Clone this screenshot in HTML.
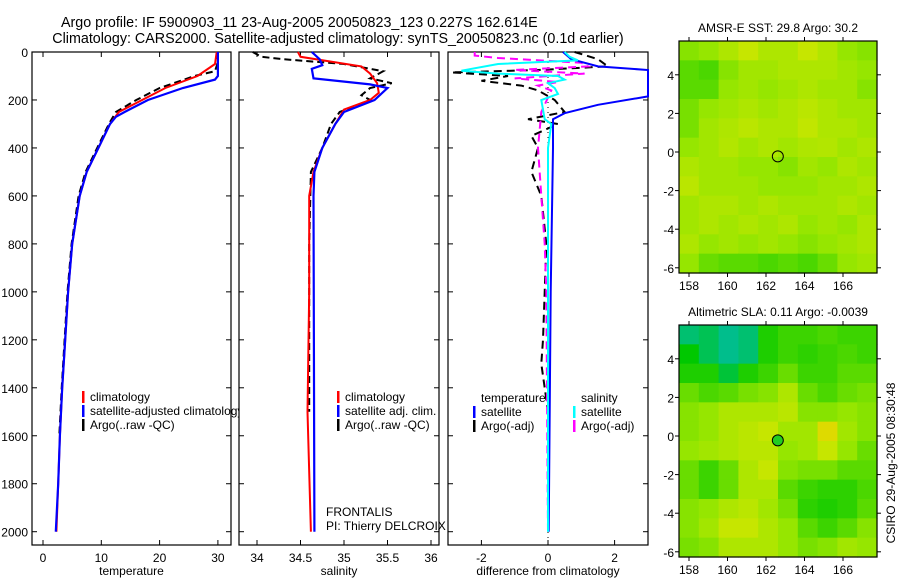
<!DOCTYPE html>
<html><head><meta charset="utf-8"><style>
body{margin:0;background:#fff}
svg{display:block;font-family:"Liberation Sans",sans-serif}
</style></head><body>
<svg id="c" width="900" height="580" xmlns="http://www.w3.org/2000/svg">
<text x="61" y="27" font-size="14.3">Argo profile: IF 5900903_11 23-Aug-2005 20050823_123 0.227S 162.614E</text>
<text x="338" y="43" font-size="14.3" text-anchor="middle">Climatology: CARS2000. Satellite-adjusted climatology: synTS_20050823.nc (0.1d earlier)</text>
<text x="778" y="32" font-size="12" text-anchor="middle">AMSR-E SST: 29.8 Argo: 30.2</text>
<text x="778" y="316" font-size="12" text-anchor="middle">Altimetric SLA: 0.11 Argo: -0.0039</text>
<text transform="translate(895,463) rotate(-90)" font-size="12" text-anchor="middle">CSIRO 29-Aug-2005 08:30:48</text>
</svg>
<script>
// ---- data ----
const depthTicks=[0,200,400,600,800,1000,1200,1400,1600,1800,2000];
const tempTicks=[0,10,20,30];
const salTicks=[34,34.5,35,35.5,36];
const diffTicks=[-2,0,2];
const lonTicks=[158,160,162,164,166];
const latTicks=[4,2,0,-2,-4,-6];

const tClimD=[0,50,100,150,200,250,300,400,500,600,800,1000,1200,1400,1600,1800,2000];
const tClimV=[29.8,29.5,26.5,21,17,13,11.5,9.5,7.5,6.3,5,4.3,3.8,3.3,2.9,2.6,2.3];
const tSatD=[0,100,115,150,200,250,270,300,400,500,600,800,1000,1200,1400,1600,1800,2000];
const tSatV=[30,30,29.5,24,18,14,12.5,11.5,9.5,7.5,6.3,5,4.3,3.8,3.3,2.9,2.6,2.2];
const tArgoD=[0,50,80,100,150,200,250,300,400,500,600,800,1000,1200,1400,1600];
const tArgoV=[30,29.9,29.5,26,20,16,12.5,11.3,9.3,7.3,6.1,4.9,4.2,3.7,3.2,2.8];

const sClimD=[0,20,40,60,90,130,170,200,240,300,400,500,600,1000,1500,2000];
const sClimV=[34.47,34.5,34.85,35.2,35.3,35.38,35.4,35.3,35.0,34.9,34.75,34.65,34.6,34.6,34.58,34.62];
const sSatD=[0,30,55,70,110,135,150,200,250,300,400,500,600,2000];
const sSatV=[34.63,34.72,34.75,34.63,34.65,35.3,35.5,35.35,35.0,34.9,34.75,34.66,34.65,34.66];
const sArgoD=[0,20,30,50,80,110,130,150,180,200,250,300,400,500,800,1500];
const sArgoV=[33.95,34.05,34.3,35.0,35.45,35.3,35.55,35.3,35.2,35.3,34.95,34.85,34.75,34.62,34.6,34.6];

const dTSatD=[0,30,60,75,185,220,255,280,400,1000,2000];
const dTSatV=[0.45,0.7,1.5,3.3,3.3,1.5,0.5,0.15,0.15,0.08,0.02];
const dSSatD=[0,20,35,50,78,90,100,115,130,150,175,200,280,300,400,2000];
const dSSatV=[0.5,0.65,0.9,-1.5,-2.6,-1.5,0.3,0.5,0.0,0.2,0.3,-0.2,-0.1,0.1,0.0,0.0];
const dSArgoD=[0,15,25,45,60,75,90,110,125,140,160,250,400,600,800,1000,2000];
const dSArgoV=[-2.2,-2.2,-1.5,1.0,1.2,-1.0,1.1,-1.0,0.3,-0.3,0.1,-0.2,-0.3,-0.2,-0.1,-0.05,0];
const dTArgoD=[0,30,60,75,85,100,120,140,160,200,250,280,300,350,400,500,600,800,1000,1200,1300,1400,1500];
const dTArgoV=[0.8,1.5,1.8,-0.3,-2.9,-1.2,-2.0,-0.8,-0.3,0.2,0.5,-0.6,0.3,-0.5,-0.3,-0.5,-0.2,-0.05,-0.1,-0.15,-0.2,-0.1,0];

const sstGrid=[
[0.45,0.5,0.6,0.7,0.6,0.6,0.7,0.62,0.5,0.45],
[0.3,0.25,0.45,0.55,0.55,0.6,0.6,0.6,0.55,0.5],
[0.3,0.3,0.5,0.55,0.5,0.55,0.6,0.55,0.55,0.45],
[0.4,0.5,0.55,0.6,0.55,0.6,0.65,0.6,0.55,0.55],
[0.4,0.55,0.6,0.65,0.6,0.6,0.68,0.6,0.6,0.55],
[0.5,0.55,0.62,0.55,0.6,0.55,0.6,0.62,0.55,0.6],
[0.6,0.55,0.55,0.5,0.5,0.45,0.55,0.5,0.6,0.55],
[0.65,0.55,0.55,0.55,0.5,0.5,0.5,0.55,0.55,0.6],
[0.55,0.6,0.6,0.55,0.6,0.55,0.55,0.55,0.6,0.55],
[0.55,0.6,0.55,0.6,0.55,0.6,0.5,0.55,0.5,0.6],
[0.6,0.5,0.55,0.5,0.55,0.5,0.45,0.5,0.55,0.6],
[0.5,0.35,0.3,0.3,0.25,0.3,0.25,0.35,0.5,0.55]];
const slaGrid=[
[-0.2,-0.15,-0.25,-0.2,0.1,0.2,0.2,0.25,0.2,0.2],
[0.0,-0.15,-0.3,-0.2,0.1,0.2,0.15,0.2,0.25,0.2],
[0.1,0.1,-0.1,0.1,0.2,0.35,0.2,0.2,0.3,0.3],
[0.35,0.25,0.3,0.4,0.45,0.6,0.35,0.25,0.35,0.4],
[0.45,0.5,0.6,0.6,0.6,0.65,0.45,0.45,0.5,0.45],
[0.45,0.5,0.6,0.65,0.7,0.55,0.55,0.85,0.55,0.45],
[0.5,0.55,0.6,0.65,0.65,0.5,0.55,0.7,0.5,0.35],
[0.35,0.2,0.35,0.6,0.7,0.45,0.4,0.4,0.3,0.3],
[0.35,0.2,0.35,0.6,0.6,0.3,0.2,0.15,0.15,0.25],
[0.45,0.5,0.6,0.65,0.55,0.4,0.15,0.1,0.15,0.3],
[0.45,0.55,0.7,0.7,0.6,0.5,0.3,0.2,0.3,0.45],
[0.4,0.45,0.6,0.6,0.6,0.5,0.4,0.45,0.55,0.5]];
const argoLon=162.614, argoLat=-0.227;

// ---- drawing ----
const svg=document.getElementById('c');
const NS='http://www.w3.org/2000/svg';
function mk(tag,attrs,parent){const e=document.createElementNS(NS,tag);for(const k in attrs)e.setAttribute(k,attrs[k]);(parent||svg).appendChild(e);return e;}
const y0=52,yB=545;
const yD=d=>52+d*(479.7/2000);
const xT=v=>43+v*5.83;
const xS=v=>257+(v-34)*87;
const xDf=v=>548+v*33.3;

function panel(x1,x2,name,xs,ticks,fmt,label){
  const g=mk('g',{});
  
  
  mk('rect',{x:x1,y:y0,width:x2-x1,height:yB-y0,fill:'#fff',stroke:'#000','stroke-width':1.2},g);
  ticks.forEach(t=>{const x=xs(t);
    mk('line',{x1:x,x2:x,y1:yB,y2:yB-5,stroke:'#000'},g);
    mk('line',{x1:x,x2:x,y1:y0,y2:y0+5,stroke:'#000'},g);
    const tx=mk('text',{x:x,y:yB+17,'font-size':12,'text-anchor':'middle'},g);tx.textContent=fmt(t);
    
    
  });
  depthTicks.forEach(d=>{const y=yD(d);
    mk('line',{x1:x1,x2:x1+5,y1:y,y2:y,stroke:'#000'},g);
    mk('line',{x1:x2,x2:x2-5,y1:y,y2:y,stroke:'#000'},g);});
  const lt=mk('text',{x:(x1+x2)/2,y:575,'font-size':12,'text-anchor':'middle'},g);lt.textContent=label;
  
  
  return g;
}
function line(g,D,V,xs,color,dash,w,name,x1,x2){
  const pts=D.map((d,i)=>{let x=xs(V[i]);x=Math.max(x1,Math.min(x2,x));return x.toFixed(1)+','+yD(d).toFixed(1);}).join(' ');
  const p=mk('polyline',{points:pts,fill:'none',stroke:color,'stroke-width':w,'stroke-dasharray':dash||'none'},g);
  
  
}
function legend(g,x,y,items){
  items.forEach((it,i)=>{
    mk('rect',{x:x,y:y+i*14-6,width:2.5,height:12,fill:it[1]},g);
    const t=mk('text',{x:x+8,y:y+i*14+4,'font-size':12},g);t.textContent=it[0];
    
    
  });
}
// panel 1
const p1=panel(32,231,'temperature-panel',xT,tempTicks,String,'temperature');
line(p1,tArgoD,tArgoV,xT,'#000','7,4',2,'argo-temperature-line',32,231);
line(p1,tClimD,tClimV,xT,'#f00','',2,'climatology-temperature-line',32,231);
line(p1,tSatD,tSatV,xT,'#00f','',2.2,'satellite-temperature-line',32,231);
legend(p1,82,397,[['climatology','#f00'],['satellite-adjusted climatology','#00f'],['Argo(..raw -QC)','#000']]);
depthTicks.forEach(d=>{const t=mk('text',{x:28,y:yD(d)+5,'font-size':12,'text-anchor':'end'});t.textContent=d;
  
  });
// panel 2
const p2=panel(239,439,'salinity-panel',xS,salTicks,String,'salinity');
line(p2,sArgoD,sArgoV,xS,'#000','7,4',2,'argo-salinity-line',239,439);
line(p2,sClimD,sClimV,xS,'#f00','',2,'climatology-salinity-line',239,439);
line(p2,sSatD,sSatV,xS,'#00f','',2.2,'satellite-salinity-line',239,439);
legend(p2,337,397,[['climatology','#f00'],['satellite adj. clim.','#00f'],['Argo(..raw -QC)','#000']]);
const f1=mk('text',{x:326,y:516,'font-size':12},p2);f1.textContent='FRONTALIS';


const f2=mk('text',{x:326,y:530,'font-size':12},p2);f2.textContent='PI: Thierry DELCROIX';


// panel 3
const p3=panel(448,648,'difference-panel',xDf,diffTicks,String,'difference from climatology');
mk('line',{x1:548,x2:548,y1:y0,y2:yB,stroke:'#000','stroke-dasharray':'1,4'},p3);
line(p3,dTArgoD,dTArgoV,xDf,'#000','8,5',2,'argo-temperature-diff-line',448,648);
line(p3,dSArgoD,dSArgoV,xDf,'#f0f','8,5',2,'argo-salinity-diff-line',448,648);
line(p3,dTSatD,dTSatV,xDf,'#00f','',2,'satellite-temperature-diff-line',448,648);
line(p3,dSSatD,dSSatV,xDf,'#0ff','',2,'satellite-salinity-diff-line',448,648);
const th=mk('text',{x:481,y:402,'font-size':12},p3);th.textContent='temperature';


const sh=mk('text',{x:581,y:402,'font-size':12},p3);sh.textContent='salinity';


legend(p3,473,412,[['satellite','#00f'],['Argo(-adj)','#000']]);
legend(p3,573,412,[['satellite','#0ff'],['Argo(-adj)','#f0f']]);

// maps
function col(v){
  let r,g,b;
  if(v<0){const t=Math.min(1,-v/0.25);r=0;g=200-10*t;b=140*t;}
  else if(v<0.5){const t=v/0.5;r=150*t;g=200+30*t;b=0;}
  else if(v<0.75){const t=(v-0.5)/0.25;r=150+60*t;g=230;b=0;}
  else {const t=Math.min(1,(v-0.75)/0.25);r=210+30*t;g=230-30*t;b=0;}
  return `rgb(${r|0},${g|0},${b|0})`;
}
function map(top,bottom,grid,name,filled){
  const L=679,R=877,lat0=152+ (top-41);
  const xl=lon=>689+(lon-158)*19.25;
  const yl=lat=>lat0-lat*19.3;
  const g=mk('g',{});
  
  
  const rows=grid.length,cols=grid[0].length,cw=(R-L)/cols,ch=(bottom-top)/rows;
  grid.forEach((row,i)=>row.forEach((v,j)=>{
    const c=mk('rect',{x:L+j*cw,y:top+i*ch,width:cw+0.6,height:ch+0.6,fill:col(v)},g);
    
    
  }));
  mk('rect',{x:L,y:top,width:R-L,height:bottom-top,fill:'none',stroke:'#000','stroke-width':1.2},g);
  lonTicks.forEach(lon=>{const x=xl(lon);
    mk('line',{x1:x,x2:x,y1:top,y2:top-4,stroke:'#000'},g);
    mk('line',{x1:x,x2:x,y1:bottom,y2:bottom+4,stroke:'#000'},g);
    const t=mk('text',{x:x,y:bottom+17,'font-size':12,'text-anchor':'middle'},g);t.textContent=lon;
    
    });
  latTicks.forEach(lat=>{const y=yl(lat);
    mk('line',{x1:L,x2:L-4,y1:y,y2:y,stroke:'#000'},g);
    mk('line',{x1:R,x2:R+4,y1:y,y2:y,stroke:'#000'},g);
    const t=mk('text',{x:674,y:y+5,'font-size':12,'text-anchor':'end'},g);t.textContent=lat;
    
    });
  const m=mk('circle',{cx:xl(argoLon),cy:yl(argoLat),r:5.5,fill:filled?'#2c2':'none',stroke:'#000','stroke-width':1},g);
  
  
}
map(41,273,sstGrid,'sst-map',false);
map(325,557,slaGrid,'sla-map',true);
</script>
</body></html>
